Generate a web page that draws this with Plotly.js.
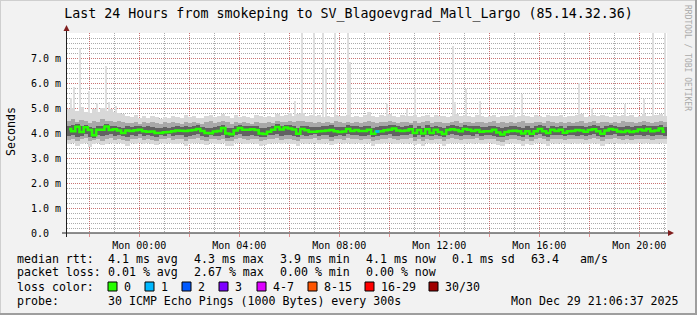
<!DOCTYPE html>
<html><head><meta charset="utf-8">
<script src="https://cdn.plot.ly/plotly-3.0.1.min.js"></script>
<style>html,body{margin:0;padding:0;background:#f2f2f2;}#chart{width:697px;height:315px;}</style>
</head><body><div id="chart"></div>
<script>
// ---- data (hours relative to Mon 00:00, values in ms) ----
const startHour = -2.8897;      // Sun 21:06:37
const stepHours = 1 / 6;        // 10-minute steps

const median = [
4.16,4.07,4.25,4.04,4.23,4.12,3.91,4.13,4.13,4.26,4.12,4.15,
4.1,4.0,4.1,4.08,4.11,4.13,4.07,4.05,4.06,4.0,4.0,4.03,
4.04,4.07,4.1,4.09,4.08,4.1,4.12,4.16,4.08,4.0,3.99,4.06,
4.08,4.2,3.98,3.95,4.1,4.2,4.13,4.13,4.15,4.12,3.98,3.96,
4.05,4.13,4.24,4.14,4.22,4.18,4.14,3.97,4.16,4.11,4.05,4.05,
4.07,4.08,4.1,4.12,4.07,4.04,4.06,4.16,4.08,4.12,4.08,4.08,
4.13,3.97,4.06,4.07,4.11,4.13,4.18,4.1,4.08,4.1,4.15,4.0,
4.12,3.98,4.15,4.0,4.13,4.04,3.96,4.12,4.15,4.12,4.07,4.16,
4.13,4.08,4.12,4.05,4.07,4.07,4.13,4.02,3.94,4.04,4.08,4.09,
4.07,3.98,4.07,3.97,4.07,4.16,4.07,4.0,4.13,4.08,4.13,4.01,
4.07,4.08,4.12,4.1,4.05,4.12,4.15,4.07,3.97,4.1,4.16,4.13,
4.06,4.04,4.09,4.04,4.07,4.14,4.1,4.16,4.07,4.1,4.18,4.05];

const smokeOuterLo = [
3.55,3.6,3.5,3.58,3.62,3.45,3.55,3.6,3.52,3.58,3.62,3.55,
3.6,3.55,3.5,3.6,3.58,3.62,3.55,3.6,3.57,3.52,3.6,3.58,
3.62,3.55,3.58,3.6,3.5,3.57,3.6,3.62,3.55,3.52,3.6,3.58,
3.55,3.6,3.5,3.48,3.6,3.62,3.58,3.55,3.6,3.57,3.5,3.52,
3.58,3.6,3.62,3.55,3.6,3.58,3.55,3.5,3.6,3.57,3.6,3.62,
3.55,3.58,3.6,3.52,3.57,3.6,3.55,3.62,3.58,3.6,3.55,3.57,
3.6,3.5,3.55,3.58,3.6,3.62,3.57,3.55,3.6,3.58,3.62,3.52,
3.58,3.5,3.6,3.55,3.6,3.57,3.5,3.58,3.62,3.6,3.55,3.58,
3.6,3.57,3.62,3.55,3.58,3.6,3.57,3.52,3.48,3.55,3.6,3.58,
3.55,3.5,3.58,3.52,3.6,3.62,3.57,3.5,3.6,3.58,3.6,3.55,
3.58,3.6,3.57,3.6,3.55,3.58,3.62,3.57,3.5,3.58,3.6,3.62,
3.57,3.55,3.6,3.55,3.58,3.6,3.57,3.6,3.55,3.58,3.6,3.57];

const smokeOuterHi = [
4.95,5.0,4.9,5.05,4.85,4.8,4.95,4.85,5.0,4.9,4.95,4.85,
4.8,4.75,4.7,4.65,4.72,4.6,4.68,4.62,4.7,4.65,4.58,4.66,
4.62,4.7,4.66,4.6,4.72,4.65,4.7,4.62,4.6,4.68,4.74,4.66,
4.7,4.78,4.68,4.62,4.72,4.66,4.7,4.65,4.6,4.72,4.68,4.64,
4.7,4.66,4.75,4.68,4.72,4.8,4.7,4.76,4.82,4.7,4.74,4.68,
4.72,4.66,4.7,4.65,4.74,4.7,4.68,4.72,4.66,4.7,4.64,4.72,
4.85,4.7,4.66,4.72,4.68,4.75,4.7,4.66,4.72,4.7,4.68,4.74,
4.66,4.7,4.74,4.66,4.72,4.7,4.68,4.65,4.7,4.75,4.68,4.72,
4.7,4.66,4.72,4.68,4.65,4.7,4.74,4.66,4.7,4.68,4.72,4.66,
4.7,4.74,4.68,4.66,4.72,4.7,4.66,4.74,4.7,4.68,4.72,4.66,
4.7,4.68,4.72,4.75,4.66,4.7,4.74,4.68,4.72,4.7,4.66,4.72,
4.68,4.74,4.7,4.72,4.66,4.7,4.75,4.7,4.68,4.72,4.76,4.7];

const smokeMidLo = [
3.72,3.78,3.7,3.75,3.8,3.68,3.74,3.78,3.7,3.76,3.8,3.74,
3.78,3.72,3.7,3.76,3.75,3.8,3.72,3.78,3.74,3.7,3.78,3.75,
3.8,3.74,3.76,3.78,3.7,3.75,3.78,3.8,3.72,3.7,3.78,3.76,
3.74,3.78,3.7,3.68,3.76,3.8,3.75,3.72,3.78,3.75,3.7,3.72,
3.76,3.78,3.8,3.74,3.78,3.76,3.72,3.7,3.78,3.75,3.78,3.8,
3.74,3.76,3.78,3.7,3.75,3.78,3.74,3.8,3.76,3.78,3.72,3.75,
3.78,3.7,3.72,3.76,3.78,3.8,3.75,3.72,3.78,3.76,3.8,3.7,
3.76,3.7,3.78,3.72,3.78,3.75,3.68,3.76,3.8,3.78,3.72,3.76,
3.78,3.75,3.8,3.72,3.76,3.78,3.75,3.7,3.66,3.72,3.78,3.76,
3.72,3.68,3.76,3.7,3.78,3.8,3.75,3.7,3.78,3.76,3.78,3.72,
3.76,3.78,3.75,3.78,3.72,3.76,3.8,3.75,3.68,3.76,3.78,3.8,
3.75,3.72,3.78,3.74,3.76,3.78,3.75,3.78,3.72,3.76,3.78,3.75];

const smokeMidHi = [
4.5,4.55,4.45,4.52,4.48,4.4,4.5,4.46,4.55,4.48,4.5,4.45,
4.48,4.44,4.4,4.42,4.46,4.38,4.44,4.4,4.45,4.42,4.38,4.44,
4.4,4.46,4.42,4.38,4.45,4.42,4.46,4.4,4.38,4.44,4.48,4.42,
4.46,4.5,4.44,4.38,4.46,4.42,4.45,4.42,4.38,4.46,4.42,4.4,
4.44,4.42,4.48,4.44,4.46,4.5,4.45,4.48,4.5,4.44,4.46,4.42,
4.46,4.42,4.45,4.4,4.48,4.44,4.42,4.46,4.42,4.45,4.4,4.46,
4.5,4.44,4.42,4.46,4.44,4.48,4.45,4.42,4.46,4.44,4.42,4.48,
4.42,4.45,4.48,4.42,4.46,4.44,4.42,4.4,4.45,4.48,4.42,4.46,
4.45,4.42,4.46,4.44,4.4,4.45,4.48,4.42,4.44,4.42,4.46,4.42,
4.45,4.48,4.42,4.4,4.46,4.45,4.42,4.48,4.44,4.42,4.46,4.42,
4.45,4.42,4.46,4.48,4.42,4.45,4.48,4.42,4.46,4.44,4.42,4.46,
4.42,4.48,4.45,4.46,4.42,4.44,4.48,4.45,4.42,4.46,4.5,4.45];

const smokeCoreLo = [
3.9,3.94,3.86,3.9,3.95,3.85,3.82,3.92,3.88,3.93,3.95,3.9,
3.93,3.88,3.86,3.92,3.9,3.95,3.88,3.92,3.9,3.86,3.92,3.9,
3.95,3.9,3.92,3.93,3.86,3.9,3.93,3.95,3.88,3.86,3.92,3.9,
3.9,3.94,3.82,3.84,3.92,3.95,3.9,3.88,3.93,3.9,3.85,3.86,
3.92,3.93,3.95,3.9,3.93,3.92,3.88,3.85,3.93,3.9,3.92,3.95,
3.9,3.92,3.93,3.86,3.9,3.93,3.9,3.95,3.92,3.93,3.88,3.9,
3.93,3.86,3.88,3.92,3.93,3.95,3.9,3.88,3.93,3.92,3.95,3.86,
3.92,3.86,3.93,3.88,3.93,3.9,3.85,3.92,3.95,3.93,3.88,3.92,
3.93,3.9,3.95,3.88,3.92,3.93,3.9,3.86,3.84,3.88,3.93,3.92,
3.88,3.85,3.92,3.86,3.93,3.95,3.9,3.86,3.93,3.92,3.93,3.88,
3.92,3.93,3.9,3.93,3.88,3.92,3.95,3.9,3.85,3.92,3.93,3.95,
3.9,3.88,3.93,3.9,3.92,3.93,3.9,3.93,3.88,3.92,3.93,3.9];

const smokeCoreHi = [
4.3,4.34,4.36,4.28,4.34,4.25,4.2,4.28,4.3,4.36,4.28,4.3,
4.26,4.22,4.28,4.25,4.3,4.27,4.24,4.28,4.25,4.22,4.2,4.24,
4.22,4.26,4.28,4.25,4.3,4.26,4.28,4.32,4.26,4.22,4.2,4.25,
4.28,4.34,4.22,4.2,4.28,4.34,4.3,4.28,4.3,4.28,4.22,4.2,
4.26,4.3,4.36,4.3,4.34,4.32,4.28,4.22,4.3,4.27,4.24,4.25,
4.26,4.28,4.3,4.32,4.26,4.24,4.26,4.32,4.28,4.3,4.26,4.27,
4.3,4.22,4.26,4.28,4.3,4.32,4.34,4.28,4.26,4.28,4.32,4.22,
4.3,4.22,4.32,4.24,4.3,4.26,4.2,4.3,4.32,4.3,4.26,4.32,
4.3,4.27,4.3,4.25,4.26,4.28,4.3,4.24,4.2,4.25,4.28,4.3,
4.26,4.22,4.28,4.22,4.28,4.34,4.27,4.22,4.3,4.26,4.3,4.22,
4.28,4.27,4.3,4.28,4.25,4.3,4.32,4.27,4.22,4.28,4.32,4.3,
4.26,4.24,4.28,4.25,4.27,4.3,4.32,4.3,4.28,4.3,4.34,4.26];

// isolated slow pings (light smoke spikes)
const spikeTime = [-2.72,-2.62,-2.36,-2.02,-1.70,-1.32,-1.20,-0.94,6.22,6.50,6.98,7.36,7.46,7.82,8.36,8.44,9.90,10.70,11.02,12.54,12.62,13.06,13.62,14.98,15.30,17.60,18.10,19.42,20.20,20.54,21.02];
const spikeTop  = [5.4,5.85,7.4,5.7,5.2,6.7,5.25,5.1,5.3,8.0,8.0,8.0,6.6,8.0,8.0,6.85,5.2,4.95,5.8,7.5,5.25,5.75,5.3,5.0,5.55,6.0,5.0,5.15,5.35,8.0,8.0];
const spikeBase = 4.4;

// packet loss events (step index, lost pings)
const lossStep = [74];
const lossCount = [1];

const xTickVals = [-2,0,2,4,6,8,10,12,14,16,18,20];
const xTickText = ['','Mon 00:00','','Mon 04:00','','Mon 08:00','','Mon 12:00','','Mon 16:00','','Mon 20:00'];
const yTickVals = [0,1,2,3,4,5,6,7];
const yTickText = ['0.0\u00a0\u00a0','1.0 m','2.0 m','3.0 m','4.0 m','5.0 m','6.0 m','7.0 m'];

const lossLabels = ['0','1','2','3','4-7','8-15','16-29','30/30'];
const lossColors = ['#26ff00','#00b8ff','#0059ff','#7e00ff','#dd00ff','#ff5500','#ff0000','#a00000'];

const rttStats  = ['median rtt:','4.1 ms avg','4.3 ms max','3.9 ms min','4.1 ms now','0.1 ms sd','63.4','am/s'];
const lossStats = ['packet loss:','0.01 % avg','2.67 % max','0.00 % min','0.00 % now'];
const probeText = ['probe:','30 ICMP Echo Pings (1000 Bytes) every 300s','Mon Dec 29 21:06:37 2025'];
const titleText = 'Last 24 Hours from smokeping to SV_Blagoevgrad_Mall_Largo (85.14.32.36)';

// ---- build ----
const t = median.map((_, i) => startHour + (i + 0.5) * stepHours);
const W = 697, H = 315, L = 67, T = 33, PW = 600, PH = 200;
const px = x => (x - L) / PW;
const py = y => (T + PH - y) / PH;
const mono = 'DejaVu Sans Mono';

function band(lo, hi, color) {
  return {type:'bar', x:t, base:lo, y:hi.map((v,i)=>v-lo[i]), width:stepHours*1.04,
          marker:{color:color, line:{width:0}}, hoverinfo:'skip', showlegend:false};
}
const traces = [
  {type:'bar', x:spikeTime, base:spikeBase, y:spikeTop.map(v=>v-spikeBase), width:0.09,
   marker:{color:'#dedede', line:{width:0}}, hoverinfo:'skip', showlegend:false},
  band(smokeOuterLo, smokeOuterHi, '#d8d8d8'),
  band(smokeMidLo, smokeMidHi, '#a8a8a8'),
  band(smokeCoreLo, smokeCoreHi, '#626262'),
  {type:'scatter', mode:'lines', x:t, y:median, line:{color:'#26ff00', width:2.6, shape:'hvh'},
   hoverinfo:'skip', showlegend:false}
];
lossStep.forEach((s, k) => {
  traces.push({type:'scatter', mode:'lines', x:[t[s]-stepHours/2, t[s]+stepHours/2], y:[median[s], median[s]],
    line:{color:lossColors[Math.min(lossCount[k], 3)], width:2.6}, hoverinfo:'skip', showlegend:false});
});

const ann = [];
function txt(s, x, y, opt) {
  ann.push(Object.assign({text:s, xref:'paper', yref:'paper', x:px(x), y:py(y), xanchor:'left', yanchor:'middle',
    showarrow:false, borderpad:0, font:{family:mono, size:11.6, color:'#000'}}, opt||{}));
}
const rttX = [16,107,193,279,365,451,530,579];
rttStats.forEach((s,i)=>txt(s, rttX[i], 258.5));
const lossX = [16,107,193,279,365];
lossStats.forEach((s,i)=>txt(s, lossX[i], 272));
txt('loss color:', 16, 286.5);
const swX = [108,145,182,219,257,308,365,429];
const shapes = [];
lossLabels.forEach((s,i)=>{
  txt(s, swX[i]+15, 286.5);
  shapes.push({type:'rect', xref:'paper', yref:'paper', x0:px(swX[i]), x1:px(swX[i]+9), y0:py(291), y1:py(282),
    fillcolor:lossColors[i], line:{color:'#000', width:1}});
});
txt(probeText[0], 16, 300.5);
txt(probeText[1], 107, 300.5);
txt(probeText[2], 680, 300.5, {xanchor:'right'});
txt('Seconds', 11, 132, {xanchor:'center', textangle:-90});
txt('RRDTOOL / TOBI OETIKER', 688, 58, {xanchor:'center', textangle:90, font:{family:mono, size:8, color:'#aaaaaa'}});

// axes lines + arrows (rrdtool style)
const axisCol = '#1f1f1f', arrowCol = '#801f1f';
shapes.push({type:'line', xref:'paper', yref:'paper', x0:px(62), x1:px(670), y0:py(233), y1:py(233), line:{color:axisCol, width:1}});
shapes.push({type:'line', xref:'paper', yref:'paper', x0:px(66.5), x1:px(66.5), y0:py(237), y1:py(29), line:{color:axisCol, width:1}});
shapes.push({type:'path', xref:'paper', yref:'paper',
  path:`M ${px(668)} ${py(230)} L ${px(674)} ${py(233)} L ${px(668)} ${py(236)} Z`, fillcolor:arrowCol, line:{color:arrowCol, width:0}});
shapes.push({type:'path', xref:'paper', yref:'paper',
  path:`M ${px(63.5)} ${py(31)} L ${px(66.5)} ${py(25)} L ${px(69.5)} ${py(31)} Z`, fillcolor:arrowCol, line:{color:arrowCol, width:0}});
// 3D frame
shapes.push({type:'line', xref:'paper', yref:'paper', x0:px(0), x1:px(697), y0:py(0.5), y1:py(0.5), line:{color:'#cfcfcf', width:1}});
shapes.push({type:'line', xref:'paper', yref:'paper', x0:px(0.5), x1:px(0.5), y0:py(0), y1:py(315), line:{color:'#cfcfcf', width:1}});
shapes.push({type:'line', xref:'paper', yref:'paper', x0:px(0), x1:px(697), y0:py(314), y1:py(314), line:{color:'#9e9e9e', width:2}});
shapes.push({type:'line', xref:'paper', yref:'paper', x0:px(696), x1:px(696), y0:py(0), y1:py(315), line:{color:'#9e9e9e', width:2}});

const mgrid = 'rgba(222,79,79,0.6)', grid = 'rgba(143,143,143,0.75)';
const layout = {
  width:W, height:H, margin:{l:L, r:W-L-PW, t:T, b:H-T-PH},
  paper_bgcolor:'#f2f2f2', plot_bgcolor:'#ffffff',
  barmode:'overlay', bargap:0, showlegend:false, hovermode:false,
  title:{text:titleText, x:0.5, xref:'container', xanchor:'center', y:1-13/H, yref:'container', yanchor:'middle',
         font:{family:mono, size:13.3, color:'#000'}},
  xaxis:{range:[startHour, startHour+24], tickmode:'array', tickvals:xTickVals, ticktext:xTickText,
         showgrid:true, gridcolor:mgrid, griddash:'1px,1px', gridwidth:1, zeroline:false, showline:false,
         ticks:'outside', ticklen:3, tickcolor:mgrid, tickfont:{family:mono, size:10, color:'#000'},
         minor:{tick0:0, dtick:1, showgrid:true, gridcolor:grid, griddash:'1px,1px', gridwidth:1, ticks:''}, fixedrange:true},
  yaxis:{range:[0, 8], tickmode:'array', tickvals:yTickVals, ticktext:yTickText,
         showgrid:true, gridcolor:mgrid, griddash:'1px,1px', gridwidth:1, zeroline:false, showline:false,
         ticks:'', ticklabelstandoff:5, tickfont:{family:mono, size:10, color:'#000'},
         minor:{tick0:0, dtick:0.2, showgrid:true, gridcolor:grid, griddash:'1px,1px', gridwidth:1, ticks:''}, fixedrange:true},
  annotations:ann, shapes:shapes
};
Plotly.newPlot('chart', traces, layout, {staticPlot:true, displayModeBar:false});
</script></body></html>
